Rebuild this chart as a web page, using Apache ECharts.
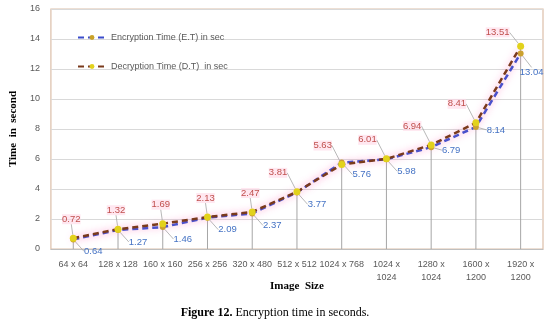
<!DOCTYPE html>
<html><head><meta charset="utf-8">
<script src="https://cdn.jsdelivr.net/npm/echarts@6/dist/echarts.min.js"></script>
<style>html,body{margin:0;padding:0;background:#fff}#c{width:550px;height:327px}</style>
</head><body><div id="c"></div>
<script>
const categories = ['64 x 64','128 x 128','160 x 160','256 x 256','320 x 480','512 x 512','1024 x 768','1024 x\n1024','1280 x\n1024','1600 x\n1200','1920 x\n1200'];
const encryption = [0.64,1.27,1.46,2.09,2.37,3.77,5.76,5.98,6.79,8.14,13.04];
const decryption = [0.72,1.32,1.69,2.13,2.47,3.81,5.63,6.01,6.94,8.41,13.51];
const yTicks = [0,2,4,6,8,10,12,14,16];
const dropTop = categories.map((c,i)=>Math.max(encryption[i],decryption[i]));

const chart = echarts.init(document.getElementById('c'));
const lblFont = {fontFamily:'Liberation Sans, Arial, sans-serif', fontSize:9.5};
const lastIdx = categories.length - 1;
chart.setOption({
  animation:false,
  grid:{left:41,right:7,top:9,bottom:78,show:true,borderColor:'#dcbfa9',borderWidth:1.2,backgroundColor:'#fff'},
  legend:{orient:'vertical',left:72,top:28,itemGap:20,itemWidth:28,itemHeight:6,
    textStyle:{color:'#595959',fontSize:9,fontFamily:'Liberation Sans, Arial, sans-serif'},
    data:['Encryption Time (E.T) in sec','Decryption Time (D.T)  in sec']},
  xAxis:{type:'category',data:categories,boundaryGap:true,
    axisLine:{lineStyle:{color:'#bfbfbf'}},axisTick:{show:false},
    axisLabel:{color:'#595959',fontSize:9,lineHeight:13,interval:0,margin:9,fontFamily:'Liberation Sans, Arial, sans-serif'},
    name:'Image  Size',nameLocation:'middle',nameGap:32,nameMoveOverlap:false,
    nameTextStyle:{fontFamily:'Liberation Serif, Times New Roman, serif',fontWeight:'bold',fontSize:11,color:'#000'}},
  yAxis:{type:'value',min:yTicks[0],max:yTicks[yTicks.length-1],interval:2,
    axisLine:{show:false},axisTick:{show:false},
    splitLine:{lineStyle:{color:'#d9d9d9'}},
    axisLabel:{color:'#595959',fontSize:9,margin:11,fontFamily:'Liberation Sans, Arial, sans-serif'},
    name:'Time  in  second',nameLocation:'middle',nameGap:25,nameRotate:90,
    nameTextStyle:{fontFamily:'Liberation Serif, Times New Roman, serif',fontWeight:'bold',fontSize:11,color:'#000'}},
  graphic:[{type:'text',left:'center',top:307,style:{
    text:'{b|Figure 12.} Encryption time in seconds.',
    rich:{b:{fontWeight:'bold',fontSize:12,fontFamily:'Liberation Serif, serif',fill:'#000'}},
    fontSize:12,fontFamily:'Liberation Serif, serif',fill:'#000'}}],
  series:[
    {type:'bar',data:dropTop,barWidth:1,itemStyle:{color:'#a6a6a6'},silent:true,z:1},
    {name:'Encryption Time (E.T) in sec',type:'line',data:encryption,z:3,
      symbol:'circle',symbolSize:6,
      lineStyle:{color:'#3a4ccc',width:2.5,type:[6,4],shadowColor:'rgba(255,140,200,0.7)',shadowBlur:7},
      itemStyle:{color:'#c9a227'},
      label:{show:true,position:'inside',color:'#4472c4',...lblFont},
      labelLayout:function(p){
        if(p.dataIndex===lastIdx) return {dx:11,dy:19};
        return {dx:20,dy:p.dataIndex>=8?3:12};},
      labelLine:{show:true,lineStyle:{color:'#a6a6a6',width:0.8}}},
    {name:'Decryption Time (D.T)  in sec',type:'line',data:decryption,z:4,
      symbol:'circle',symbolSize:7,
      lineStyle:{color:'#7a3a1c',width:2.5,type:[6,4],shadowColor:'rgba(255,140,200,0.7)',shadowBlur:7},
      itemStyle:{color:'#e2d21c'},
      label:{show:true,position:'inside',color:'#c0504d',...lblFont,backgroundColor:'rgba(255,215,230,0.6)'},
      labelLayout:function(p){
        if(p.dataIndex===lastIdx) return {dx:-23,dy:-14};
        return {dx:p.dataIndex<5?-2:-19,dy:-19};},
      labelLine:{show:true,lineStyle:{color:'#a6a6a6',width:0.8}}}
  ]
});
</script></body></html>
